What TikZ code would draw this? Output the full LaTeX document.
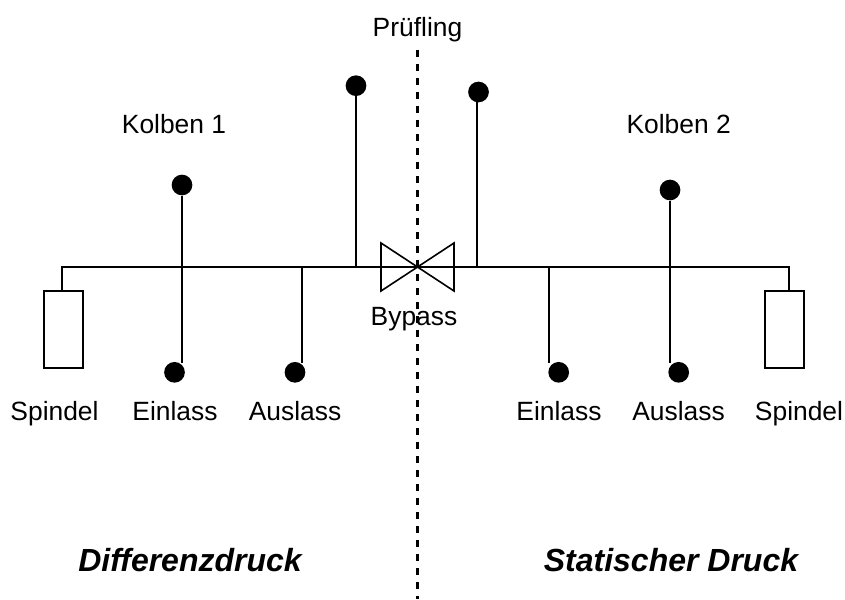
\documentclass[tikz,border=0pt]{standalone}
\usepackage{fontspec}
\setmainfont{Liberation Sans}
\begin{document}
\begin{tikzpicture}[x=1pt,y=-1pt,
  pipe/.style={draw=black,line width=1.6pt},
  dot/.style={circle,fill=black,draw=none,minimum size=20.7pt,inner sep=0pt},
  lab/.style={font=\fontsize{26.4pt}{30pt}\selectfont,inner sep=0pt,text=black,anchor=base},
  big/.style={font=\fontsize{32pt}{36pt}\selectfont\bfseries\itshape,inner sep=0pt,text=black,anchor=base},
  spindle/.style={draw=black,line width=1.6pt,fill=white,minimum width=39pt,minimum height=77pt,inner sep=0pt}]
\useasboundingbox[fill=white] (0,0) rectangle (845,599);
\coordinate (vt) at (417,50);
\coordinate (vb) at (417,599);
\draw[line width=3pt,dash pattern=on 7pt off 7pt] (vt) -- (vb);
\coordinate (hl) at (62,267);
\coordinate (hr) at (789,267);
\coordinate (vl) at (381,267);
\coordinate (vrr) at (454,267);
\node[spindle] (s1) at (63.5,329.5) {};
\node[spindle] (s2) at (784.5,329.5) {};
\draw[pipe] (s1.north -| hl) -- (hl) -- (vl) -- (vrr) -- (hr) -- (s2.north -| hr);
\draw[pipe,line join=miter] (381,243) coordinate (a1) -- (454,291) coordinate (a2) -- (454,243) coordinate (a3) -- (381,291) coordinate (a4) -- cycle;
\node[dot] (k1) at (182,185) {};
\node[dot] (e1) at (174.5,372.3) {};
\node[dot] (a1d) at (295,372.3) {};
\node[dot] (p1) at (356,85.7) {};
\node[dot] (p2) at (478.5,92) {};
\node[dot] (k2) at (670,190) {};
\node[dot] (e2) at (558.7,372.3) {};
\node[dot] (a2d) at (678.7,372.3) {};
\coordinate (j1) at (182,267);
\coordinate (j2) at (302,267);
\coordinate (j5) at (549,267);
\coordinate (low) at (0,363);
\draw[pipe] (k1) -- (k1 |- low);
\draw[pipe] (j2) -- (j2 |- low);
\draw[pipe] (p1) -- (p1 |- hl);
\draw[pipe] (477,92) -- (477,267);
\draw[pipe] (j5) -- (j5 |- low);
\draw[pipe] (k2) -- (k2 |- low);
\node[lab] (tp) at (417.5,37) {Prüfling};
\node[lab] (tk1) at (174,133) {Kolben 1};
\node[lab] (tk2) at (678.7,133) {Kolben 2};
\node[lab] (tb) at (414,325) {Bypass};
\node[lab] (ts1) at (54.5,420) {Spindel};
\node[lab] (te1) at (175,420) {Einlass};
\node[lab] (ta1) at (295,420) {Auslass};
\node[lab] (te2) at (559,420) {Einlass};
\node[lab] (ta2) at (678.5,420) {Auslass};
\node[lab] (ts2) at (799,420) {Spindel};
\node[big] (td) at (190,571) {Differenzdruck};
\node[big] (ts) at (671,571) {Statischer Druck};
\end{tikzpicture}
\end{document}
